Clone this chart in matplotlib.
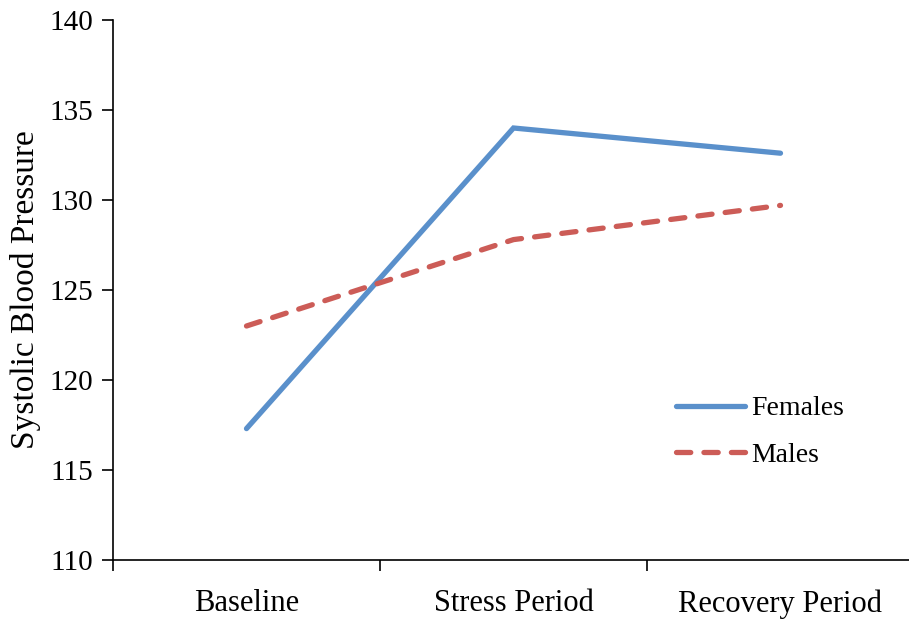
import matplotlib
matplotlib.use("Agg")
import matplotlib.pyplot as plt

categories = ["Baseline", "Stress Period", "Recovery Period"]
females = [117.3, 134.0, 132.6]
males = [123.0, 127.8, 129.7]

plt.rcParams['font.family'] = ['Liberation Serif', 'DejaVu Serif']

W, H = 909, 619
fig = plt.figure(figsize=(W/100, H/100), dpi=100)
ax = fig.add_axes([113/W, 59/H, (914-113)/W, (560-20)/H])

x = list(range(len(categories)))
ax.plot(x, females, color='#5A90CB', lw=3.8, solid_capstyle='round', solid_joinstyle='miter', label='Females')
ax.plot(x, males, color='#CC5C57', lw=3.8, dashes=(2.7, 2.5), dash_capstyle='round', label='Males')

ax.set_xlim(-0.5, 2.5)
ax.set_ylim(110, 140)
ax.set_yticks(range(110, 141, 5))
ax.set_xticks([-0.5, 0.5, 1.5, 2.5])
ax.set_xticklabels([])
ax.set_xticks(x, minor=True)
ax.set_xticklabels(categories, minor=True)
ax.tick_params(axis='x', which='minor', length=0, pad=21, labelsize=22)
ax.tick_params(axis='x', which='major', length=8, width=1.2, direction='out')
ax.tick_params(axis='y', length=8, width=1.2, direction='out', labelsize=21, pad=6)
for s in ['top', 'right']:
    ax.spines[s].set_visible(False)
for s in ['left', 'bottom']:
    ax.spines[s].set_linewidth(1.2)
ax.set_ylabel('Systolic Blood Pressure', fontsize=24, labelpad=6)

ax.legend(loc='upper left', bbox_to_anchor=(676/W, 1-396/H), bbox_transform=fig.transFigure,
          frameon=False, fontsize=20, handlelength=2.5, borderpad=0, borderaxespad=0,
          labelspacing=0.75, handletextpad=0.2)

fig.savefig('out.png', dpi=100)
